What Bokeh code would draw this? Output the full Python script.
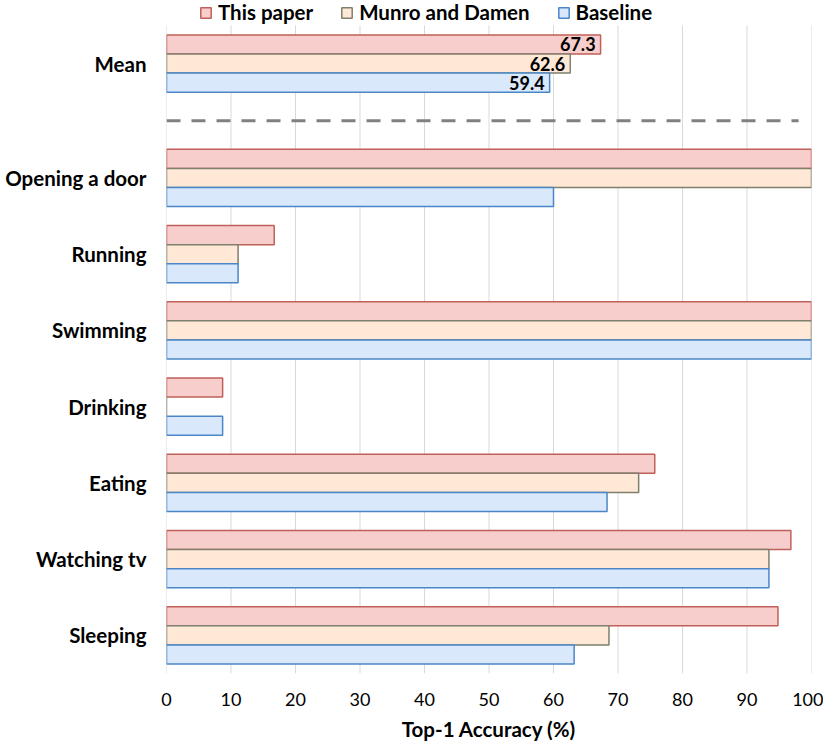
from bokeh.plotting import figure
from bokeh.models import ColumnDataSource, FixedTicker, Range1d, Legend, LegendItem
from bokeh.transform import dodge
from bokeh.core.properties import value
from bokeh.embed import file_html
from bokeh.resources import INLINE

# ---- data (top to bottom) ----
categories = ["Mean", "Opening a door", "Running", "Swimming", "Drinking",
              "Eating", "Watching tv", "Sleeping"]
this_paper = [67.3, 100.0, 16.7, 100.0, 8.7, 75.7, 96.8, 94.8]
munro_damen = [62.6, 100.0, 11.1, 100.0, 0.0, 73.2, 93.4, 68.6]
baseline = [59.4, 60.0, 11.1, 100.0, 8.7, 68.3, 93.4, 63.2]
series_names = ["This paper", "Munro and Damen", "Baseline"]
x_ticks = [0, 10, 20, 30, 40, 50, 60, 70, 80, 90, 100]
mean_labels = ["67.3", "62.6", "59.4"]

# ---- layout of category rows ----
n_rest = len(categories) - 1
mean_gap = 1.5
ys = [n_rest - 1 + mean_gap] + [n_rest - 1 - i for i in range(n_rest)]
sep_y = (ys[0] + ys[1]) / 2.0
sep_x_end = 98
y_lo = -0.5
y_hi = ys[0] + 0.5
legend_room = 0.327  # extra room above the plotted area for the legend

src = ColumnDataSource(dict(y=ys, cat=categories, a=this_paper, b=munro_damen, c=baseline))

FONT = "Lato"
fills = ["#F8CECC", "#FFE8D6", "#DAE8FC"]
lines = ["#C0605A", "#7F7F6E", "#4A86C8"]
offsets = [0.25, 0.0, -0.25]
fields = ["a", "b", "c"]

p = figure(width=823, height=739, frame_width=645, frame_height=673,
           min_border_left=166, min_border_right=12, min_border_top=0, min_border_bottom=66,
           x_range=Range1d(0, 100), y_range=Range1d(y_lo, y_hi + legend_room),
           output_backend="svg", toolbar_location=None)
p.outline_line_color = None

# vertical grid lines over the plotted area only
p.segment(x0=x_ticks, x1=x_ticks, y0=[y_lo] * len(x_ticks), y1=[y_hi] * len(x_ticks),
          line_color="#D9D9D9", line_width=1)

renderers = []
for f, fc, lc, off in zip(fields, fills, lines, offsets):
    r = p.hbar(y=dodge("y", off, range=p.y_range), right=f, left=0, height=0.25,
               source=src, fill_color=fc, line_color=lc, line_width=1.5)
    renderers.append(r)

# separator
p.segment(x0=[0], x1=[sep_x_end], y0=[sep_y], y1=[sep_y], line_color="#808080",
          line_width=3, line_dash="14 11")

# mean labels
msrc = ColumnDataSource(dict(x=[this_paper[0], munro_damen[0], baseline[0]],
                             y=[ys[0] + o for o in offsets], t=mean_labels))
p.text(x="x", y="y", text="t", source=msrc, x_offset=-5, text_align="right",
       text_baseline="middle", text_font=value(FONT), text_font_style="bold",
       text_font_size="18px", text_color="black")

# axes
p.xaxis.ticker = FixedTicker(ticks=x_ticks)
p.xaxis.axis_line_color = None
p.xaxis.major_tick_line_color = None
p.xaxis.minor_tick_line_color = None
p.xaxis.major_tick_out = 0
p.xaxis.major_label_standoff = 19
p.xaxis.major_label_text_font = FONT
p.xaxis.major_label_text_font_size = "18px"
p.xaxis.major_label_text_color = "black"
p.xaxis.axis_label = "Top-1 Accuracy (%)"
p.xaxis.axis_label_text_font = FONT
p.xaxis.axis_label_text_font_style = "bold"
p.xaxis.axis_label_text_font_size = "20.5px"
p.xaxis.axis_label_text_color = "black"
p.xaxis.axis_label_standoff = 8

p.yaxis.ticker = FixedTicker(ticks=ys)
p.yaxis.major_label_overrides = {y: c for y, c in zip(ys, categories)}
p.yaxis.axis_line_color = None
p.yaxis.major_tick_line_color = None
p.yaxis.minor_tick_line_color = None
p.yaxis.major_tick_out = 0
p.yaxis.major_label_standoff = 20
p.yaxis.major_label_text_font = FONT
p.yaxis.major_label_text_font_style = "bold"
p.yaxis.major_label_text_font_size = "20.5px"
p.yaxis.major_label_text_color = "black"

p.xgrid.grid_line_color = None
p.ygrid.grid_line_color = None

legend = Legend(items=[LegendItem(label=n, renderers=[r]) for n, r in zip(series_names, renderers)],
                orientation="horizontal", location=(33, 649), padding=0, margin=0,
                spacing=27, label_standoff=6, glyph_width=13, glyph_height=13,
                label_text_font=FONT, label_text_font_style="bold", label_text_font_size="20.5px",
                label_text_color="black", border_line_color=None, background_fill_alpha=0)
p.add_layout(legend, "center")

open("out.html", "w").write(file_html(p, INLINE))
